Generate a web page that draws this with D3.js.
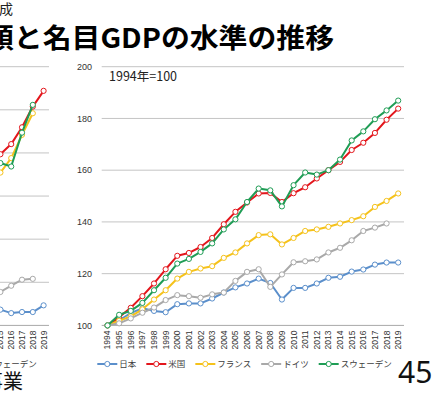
<!DOCTYPE html>
<html>
<head>
<meta charset="utf-8">
<script src="https://cdn.jsdelivr.net/npm/d3@7"></script>
<style>
body { margin: 0; background: #fff; }
svg { display: block; }
</style>
</head>
<body>
<div id="draw_area"></div>
<script>
// categories
var years = ["1994","1995","1996","1997","1998","1999","2000","2001","2002","2003","2004","2005","2006",
             "2007","2008","2009","2010","2011","2012","2013","2014","2015","2016","2017","2018","2019"];
var y_ticks = [100, 120, 140, 160, 180, 200];

// series, 1994 = 100
var japan   = [100, 102.0, 104.8, 106.6, 105.6, 105.1, 108.2, 108.5, 108.5, 110.4, 112.7, 114.7, 116.2,
               118.1, 116.4, 110.0, 114.5, 114.5, 116.2, 118.4, 118.8, 120.8, 121.6, 123.5, 124.3, 124.3];
var usa     = [100, 103.2, 106.8, 111.3, 116.2, 121.7, 126.9, 128.0, 130.3, 133.8, 139.1, 143.9, 147.5,
               151.0, 151.2, 147.7, 151.1, 153.4, 156.8, 160.0, 163.2, 167.8, 170.6, 174.4, 179.5, 183.8];
var france  = [100, 101.8, 103.5, 106.2, 110.0, 113.6, 118.1, 120.7, 122.0, 122.9, 126.1, 128.2, 131.7,
               134.9, 135.2, 131.3, 133.8, 136.5, 137.1, 138.1, 139.4, 140.7, 142.2, 145.8, 148.1, 151.0];
var germany = [100, 100.8, 102.7, 104.9, 106.9, 109.8, 111.7, 111.3, 110.7, 112.0, 112.7, 117.2, 120.7,
               121.7, 114.9, 119.7, 124.4, 124.8, 125.5, 128.2, 130.0, 132.9, 136.5, 137.8, 139.4, null];
var sweden  = [100, 104.1, 105.6, 108.7, 113.6, 118.4, 123.9, 125.7, 128.4, 131.7, 137.1, 141.0, 147.7,
               152.9, 152.2, 146.0, 154.2, 159.1, 158.3, 160.0, 164.1, 171.5, 175.0, 179.7, 183.1, 186.9];

// neighbouring chart (only its right edge is on the page)
var left_years = ["1992","1993","1994","1995","1996","1997","1998","1999","2000","2001","2002","2003","2004","2005",
                  "2006","2007","2008","2009","2010","2011","2012","2013","2014","2015","2016","2017","2018","2019"];
var left_ticks = [100, 120, 140, 160, 180, 200, 220];
var left_shown = ["2014","2015","2016","2017","2018","2019"];
var left_japan   = [107.5, 107.3, 105.7, 106.2, 106.2, 109.3];
var left_usa     = [175.5, 179.4, 184.1, 191.9, 201.5, 208.8];
var left_france  = [166.0, 170.9, 177.6, 188.4, 198.4, null];
var left_germany = [112.5, 115.5, 118.4, 121.2, 121.6, null];
var left_sweden  = [175.5, 175.3, 173.7, 189.4, 202.3, null];

var names  = ["日本", "米国", "フランス", "ドイツ", "スウェーデン"];
var colors = ["#5b8fcb", "#e3161c", "#f5c21b", "#a9a9a9", "#1f9d55"];

var W = 448, H = 396;
var svg = d3.select("div#draw_area").append("svg").attr("width", W).attr("height", H)
   .attr("viewBox", "0 0 " + W + " " + H);

function draw_chart(cfg) {
   var g = svg.append("g").attr("class", "chart");
   var x = d3.scalePoint().domain(cfg.cats).range(cfg.xr).padding(0.5);
   var y = d3.scaleLinear().domain(cfg.yd).range([325.4, 66.7]);

   // grid
   g.selectAll("line.grid").data(cfg.ticks).enter().append("line")
      .attr("class", "grid")
      .attr("x1", cfg.xr[0]).attr("x2", cfg.xr[1])
      .attr("y1", function(d) { return y(d); }).attr("y2", function(d) { return y(d); })
      .attr("stroke", function(d) { return d == cfg.yd[0] ? "#a8a8a8" : "#c4c4c4"; })
      .attr("stroke-width", 1);

   if (cfg.ylabels) {
      g.selectAll("text.ylab").data(cfg.ticks).enter().append("text")
         .attr("class", "ylab")
         .attr("x", 92).attr("y", function(d) { return y(d); }).attr("dy", "0.35em")
         .attr("text-anchor", "end")
         .style("font-family", "'Liberation Sans', Arial, sans-serif").style("font-size", "9px")
         .attr("fill", "#333")
         .text(function(d) { return d; });
   }

   g.selectAll("text.xlab").data(cfg.cats).enter().append("text")
      .attr("class", "xlab")
      .attr("transform", function(d) { return "translate(" + x(d) + ",330.5) rotate(-90)"; })
      .attr("dy", "0.35em")
      .attr("text-anchor", "end")
      .style("font-family", "'Liberation Sans', Arial, sans-serif").style("font-size", "8.5px")
      .attr("fill", "#333")
      .text(function(d) { return d; });

   var line = d3.line()
      .defined(function(d) { return d.v != null; })
      .x(function(d) { return x(d.c); }).y(function(d) { return y(d.v); });

   cfg.series.forEach(function(vals, i) {
      var pts = vals.map(function(v, j) { return { c: cfg.shown[j], v: v }; });
      g.append("path").datum(pts)
         .attr("d", line).attr("fill", "none")
         .attr("stroke", colors[i]).attr("stroke-width", 2).attr("stroke-linejoin", "round");
      g.selectAll("circle.s" + i).data(pts.filter(function(d) { return d.v != null; })).enter().append("circle")
         .attr("class", "s" + i)
         .attr("cx", function(d) { return x(d.c); }).attr("cy", function(d) { return y(d.v); })
         .attr("r", 2.6).attr("fill", "#fff").attr("stroke", colors[i]).attr("stroke-width", 1);
   });

   // legend
   var lg = g.append("g").attr("transform", "translate(" + (97.3 + cfg.dx) + ",364)");
   var lx = 0;
   names.forEach(function(n, i) {
      var it = lg.append("g").attr("transform", "translate(" + lx + ",0)");
      it.append("line").attr("x1", 0).attr("x2", 20).attr("y1", 0).attr("y2", 0)
         .attr("stroke", colors[i]).attr("stroke-width", 2);
      it.append("circle").attr("cx", 10).attr("cy", 0).attr("r", 2.6)
         .attr("fill", "#fff").attr("stroke", colors[i]).attr("stroke-width", 1);
      var t = it.append("text").attr("x", 22).attr("y", 0).attr("dy", "0.35em")
         .style("font-family", "'Noto Sans CJK JP', sans-serif").style("font-size", "8.5px")
         .attr("fill", "#404040").text(n);
      lx += 22 + t.node().getComputedTextLength() + 10;
   });
}

draw_chart({ cats: left_years, shown: left_shown, xr: [-253.3, 49], yd: [100, 220], ticks: left_ticks,
             series: [left_japan, left_usa, left_france, left_germany, left_sweden], ylabels: false, dx: -355 });
draw_chart({ cats: years, shown: years, xr: [101.7, 404], yd: [100, 200], ticks: y_ticks,
             series: [japan, usa, france, germany, sweden], ylabels: true, dx: 0 });

// annotation
svg.append("text").attr("x", 109).attr("y", 81)
   .style("font-family", "'Noto Sans CJK JP', sans-serif").style("font-size", "12.5px")
   .attr("fill", "#222").text("1994年=100");

// slide texts around the chart
svg.append("text").attr("x", 13).attr("y", 14).attr("text-anchor", "end")
   .style("font-family", "'Noto Sans CJK JP', sans-serif").style("font-size", "14px")
   .attr("fill", "#222").text("作成");
svg.append("text").attr("x", -15).attr("y", 47.5)
   .attr("textLength", 349).attr("lengthAdjust", "spacingAndGlyphs")
   .style("font-family", "'Noto Sans CJK JP', sans-serif").style("font-size", "27px").style("font-weight", "bold")
   .attr("fill", "#000").text("額と名目GDPの水準の推移");
svg.append("text").attr("x", 398).attr("y", 382.5)
   .style("font-family", "'Noto Sans', sans-serif").style("font-size", "30px")
   .attr("fill", "#111").text("45");
svg.append("text").attr("x", 23).attr("y", 389).attr("text-anchor", "end")
   .style("font-family", "'Noto Sans CJK JP', sans-serif").style("font-size", "20px")
   .attr("fill", "#111").text("事業");
</script>
</body>
</html>
